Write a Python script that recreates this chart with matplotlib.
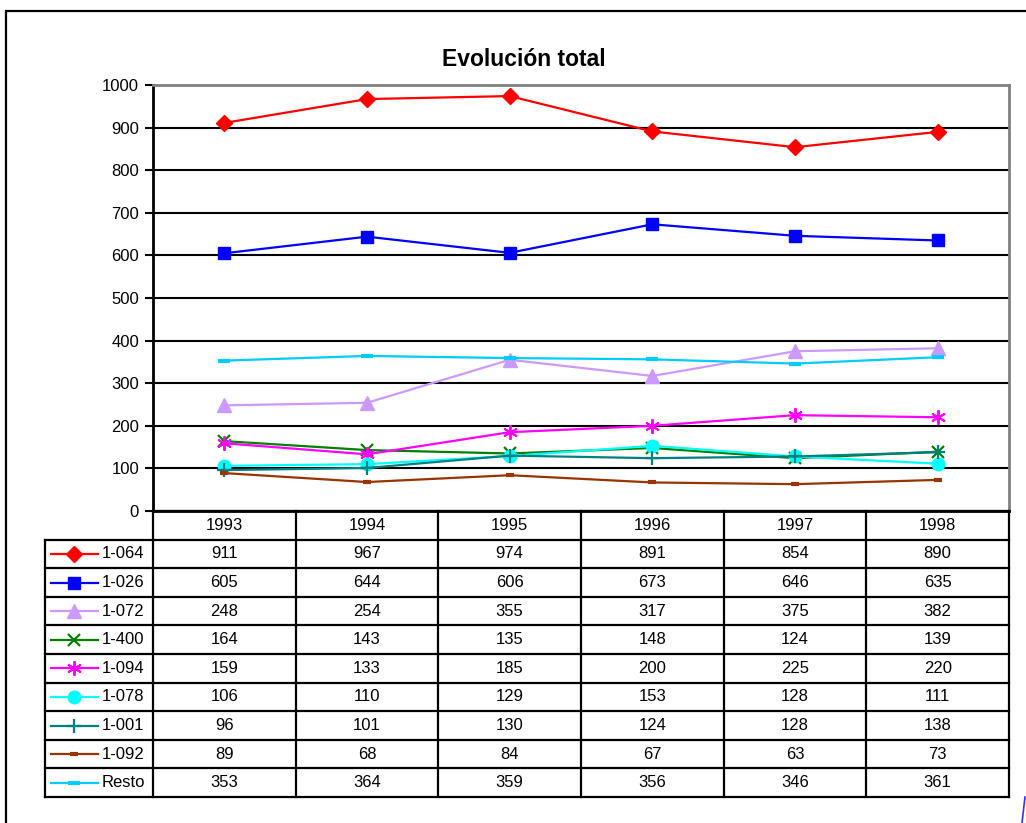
import matplotlib.pyplot as plt
from matplotlib.lines import Line2D
from matplotlib.patches import Rectangle

plt.rcParams['font.family'] = ['Liberation Sans', 'DejaVu Sans']

years = ['1993', '1994', '1995', '1996', '1997', '1998']
series = ['1-064', '1-026', '1-072', '1-400', '1-094', '1-078', '1-001', '1-092', 'Resto']
v_064 = [911, 967, 974, 891, 854, 890]
v_026 = [605, 644, 606, 673, 646, 635]
v_072 = [248, 254, 355, 317, 375, 382]
v_400 = [164, 143, 135, 148, 124, 139]
v_094 = [159, 133, 185, 200, 225, 220]
v_078 = [106, 110, 129, 153, 128, 111]
v_001 = [96, 101, 130, 124, 128, 138]
v_092 = [89, 68, 84, 67, 63, 73]
v_resto = [353, 364, 359, 356, 346, 361]
values = [v_064, v_026, v_072, v_400, v_094, v_078, v_001, v_092, v_resto]

colors = ['#FF0000', '#0000FF', '#CC99FF', '#008000', '#FF00FF',
          '#00FFFF', '#008080', '#993300', '#00CCFF']
styles = [
    dict(marker='D', ms=8.5),
    dict(marker='s', ms=9),
    dict(marker='^', ms=9.5),
    dict(marker='x', ms=8.5, mew=1.6),
    dict(marker=(6, 2, 0), ms=10.5, mew=1.4),
    dict(marker='o', ms=9),
    dict(marker='+', ms=10.5, mew=1.6),
    dict(marker='_', ms=6, mew=3),
    dict(marker='_', ms=8, mew=3),
]

W, H = 1026, 823
fig = plt.figure(figsize=(W / 100, H / 100), dpi=100)

def fbox(x0, y0, x1, y1):
    return [x0 / W, 1 - y1 / H, (x1 - x0) / W, (y1 - y0) / H]

# outer chart frame
fig.patches.append(Rectangle((6 / W, -0.05), 1.2, 1 - 11 / H + 0.05,
                             transform=fig.transFigure, fill=False,
                             edgecolor='black', lw=1.6))
fig.add_artist(Line2D([1025 / W, 1022 / W], [1 - 797 / H, 0], color='#3333FF',
                      lw=1.2, transform=fig.transFigure))

ax = fig.add_axes(fbox(153, 85, 1009, 511))
x = list(range(len(years)))
for name, vals, c, st in zip(series, values, colors, styles):
    ax.plot(x, vals, color=c, lw=1.6, mec=c, mfc=c, **st, clip_on=False, zorder=3)

ax.set_xlim(-0.5, len(years) - 0.5)
ax.set_ylim(0, 1000)
ax.set_yticks(range(0, 1001, 100))
ax.set_xticks([])
ax.grid(axis='y', color='black', lw=1.5)
ax.tick_params(axis='y', direction='out', length=6, width=1.5, labelsize=12, pad=4)
ax.spines['top'].set_color('#808080')
ax.spines['right'].set_color('#808080')
ax.spines['top'].set_linewidth(2)
ax.spines['right'].set_linewidth(2)
ax.spines['left'].set_linewidth(2)
ax.spines['bottom'].set_linewidth(2)

fig.text(524 / W, 1 - 60 / H, 'Evolución total', ha='center', va='center',
         fontsize=16.5, fontweight='bold')

# data table with legend keys
tab = fig.add_axes(fbox(45, 511, 1009, 797))
leg_w = (153 - 45) / ((1009 - 153) / 6)
x_left = -0.5 - leg_w
tab.set_xlim(x_left, len(years) - 0.5)
tab.set_ylim(len(series) + 1, 0)
tab.axis('off')
lk = dict(color='black', lw=1.6, clip_on=False)
tab.plot([-0.5, len(years) - 0.5], [0, 0], **lk)
for r in range(1, len(series) + 2):
    tab.plot([x_left, len(years) - 0.5], [r, r], **lk)
tab.plot([x_left, x_left], [1, len(series) + 1], **lk)
for cidx in range(len(years) + 1):
    tab.plot([cidx - 0.5, cidx - 0.5], [0, len(series) + 1], **lk)

for j, yr in enumerate(years):
    tab.text(j, 0.5, yr, ha='center', va='center', fontsize=12)
for i, (name, vals, c, st) in enumerate(zip(series, values, colors, styles)):
    yy = i + 1.5
    tab.plot([x_left + 0.042, x_left + 0.371], [yy, yy], color=c, lw=1.6, clip_on=False)
    tab.plot([x_left + 0.2065], [yy], color=c, mec=c, mfc=c, clip_on=False, **st)
    tab.text(x_left + 0.40, yy, name, ha='left', va='center', fontsize=12)
    for j, v in enumerate(vals):
        tab.text(j, yy, str(v), ha='center', va='center', fontsize=12)

fig.savefig('out.png', dpi=100)
